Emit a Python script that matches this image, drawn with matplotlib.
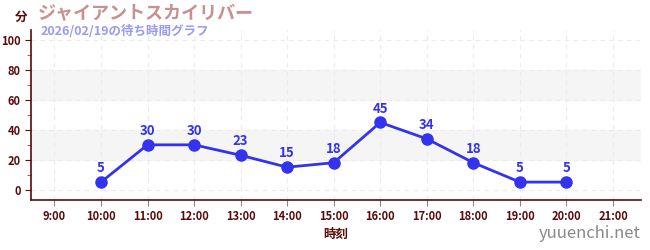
import matplotlib
matplotlib.use("Agg")
import matplotlib.pyplot as plt
from matplotlib.ticker import MultipleLocator

plt.rcParams['font.family'] = ['Noto Sans CJK JP', 'DejaVu Sans']

hours = [10, 11, 12, 13, 14, 15, 16, 17, 18, 19, 20]
waits = [5, 30, 30, 23, 15, 18, 45, 34, 18, 5, 5]
tick_hours = list(range(9, 22))
tick_labels = [f"{h}:00" for h in tick_hours]
yticks = [0, 20, 40, 60, 80, 100]

title = "ジャイアントスカイリバー"
subtitle = "2026/02/19の待ち時間グラフ"

dark = "#5a0a0a"
blue = "#3333ee"

fig = plt.figure(figsize=(6.5, 2.5), dpi=100)
ax = fig.add_axes([0.048, 0.2, 0.938, 0.68])
ax.set_xlim(8.5, 21.6)
ax.set_ylim(-7, 107)

for lo, hi in [(20, 40), (60, 80)]:
    ax.axhspan(lo, hi, color="#f5f5f5", zorder=0)

ax.set_xticks(tick_hours)
ax.set_xticklabels(tick_labels)
ax.set_yticks(yticks)
ax.yaxis.set_minor_locator(MultipleLocator(10))
ax.grid(True, which="major", color="#ebebeb", linestyle=(0, (4, 4)), linewidth=0.8, zorder=0)

for s in ["top", "right"]:
    ax.spines[s].set_visible(False)
for s in ["left", "bottom"]:
    ax.spines[s].set_color(dark)
    ax.spines[s].set_linewidth(1.2)

ax.tick_params(axis="both", which="major", colors=dark, labelsize=8, length=4)
ax.tick_params(axis="x", colors="#888888", labelcolor=dark)
ax.tick_params(axis="y", which="minor", color="#dd2222", length=3)
for lab in ax.get_xticklabels() + ax.get_yticklabels():
    lab.set_fontweight("bold")

ax.plot(hours, waits, color=blue, linewidth=2, marker="o", markersize=8, zorder=3)
for h, w in zip(hours, waits):
    ax.annotate(str(w), (h, w), xytext=(0, 5), textcoords="offset points",
                ha="center", va="bottom", color=blue, fontsize=9.5, fontweight="bold")

ax.set_xlabel("時刻", color=dark, fontsize=9, fontweight="bold", labelpad=3)

fig.text(0.023, 0.93, "分", color=dark, fontsize=9, fontweight="bold", ha="left", va="center")
fig.text(0.058, 0.945, title, color="#c99090", fontsize=13, fontweight="bold", ha="left", va="center")
fig.text(0.062, 0.875, subtitle, color="#9a9af0", fontsize=9, fontweight="bold", ha="left", va="center")
fig.text(0.985, 0.068, "yuuenchi.net", color="#888888", fontsize=12, ha="right", va="center")

fig.savefig("out.png", dpi=100)
